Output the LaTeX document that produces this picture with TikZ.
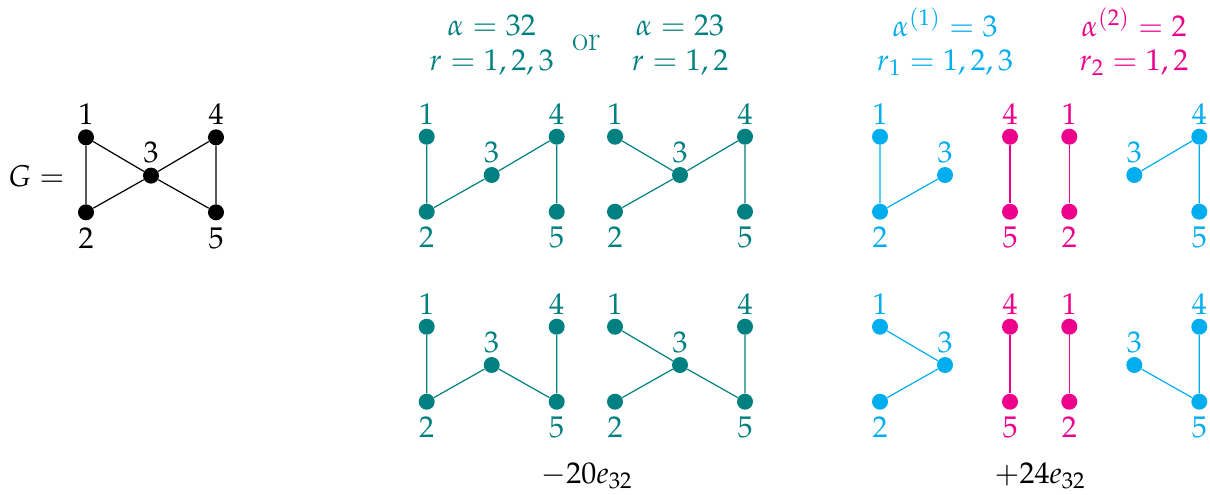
\documentclass[tikz,border=0pt]{standalone}
\usepackage{mathpazo}
\definecolor{myteal}{RGB}{0,128,128}
\definecolor{mycyan}{RGB}{0,174,239}
\definecolor{mymag}{RGB}{236,0,140}
\tikzset{
  v/.style={circle, inner sep=0pt, minimum size=8pt},
  lab/.style={inner sep=0pt, font=\fontsize{15}{18}\selectfont},
  txt/.style={inner sep=0pt, font=\fontsize{15}{18}\selectfont, anchor=base},
  e/.style={line width=0.6pt},
}
\newcommand\fivenodes[8]{%
  \begin{scope}[shift={(#2,#3)}]
    \node[v,fill=#4,label={[lab,text=#4,label distance=1.7pt]above:$1$}] (#1-1) at (0,0) {};
    \node[v,fill=#5,label={[lab,text=#5,label distance=3.3pt]below:$2$}] (#1-2) at (0,75) {};
    \node[v,fill=#6,label={[lab,text=#6,label distance=1.7pt]above:$3$}] (#1-3) at (65,38.3) {};
    \node[v,fill=#7,label={[lab,text=#7,label distance=1.7pt]above:$4$}] (#1-4) at (130,0) {};
    \node[v,fill=#8,label={[lab,text=#8,label distance=3.3pt]below:$5$}] (#1-5) at (130,75) {};
  \end{scope}}
\begin{document}
\begin{tikzpicture}[x=0.5pt,y=-0.5pt]
\useasboundingbox (0,0) rectangle (1210,494);
% G
\node[txt,anchor=base east] (geq) at (65,186) {$G =$};
\fivenodes{g}{86}{137.3}{black}{black}{black}{black}{black}
\draw[e] (g-1) -- (g-2) (g-1) -- (g-3) (g-2) -- (g-3) (g-3) -- (g-4) (g-3) -- (g-5) (g-4) -- (g-5);
% headers teal
\node[txt,text=myteal] (h1a) at (491.7,35) {$\alpha = 32$};
\node[txt,text=myteal] (h1b) at (491.7,70) {$r = 1,2,3$};
\node[txt,text=myteal,font=\fontsize{17.5}{21}\selectfont] (hor) at (587,50) {or};
\node[txt,text=myteal] (h2a) at (680,35) {$\alpha = 23$};
\node[txt,text=myteal] (h2b) at (680,70) {$r = 1,2$};
% headers cyan / magenta
\node[txt,text=mycyan] (h3a) at (945,36.7) {$\alpha^{(1)} = 3$};
\node[txt,text=mycyan] (h3b) at (945,70) {$r_1 = 1,2,3$};
\node[txt,text=mymag] (h4a) at (1134,36.7) {$\alpha^{(2)} = 2$};
\node[txt,text=mymag] (h4b) at (1134,70) {$r_2 = 1,2$};
% top teal graphs
\fivenodes{ta}{426.7}{136.7}{myteal}{myteal}{myteal}{myteal}{myteal}
\draw[e,myteal] (ta-1) -- (ta-2) (ta-2) -- (ta-3) (ta-3) -- (ta-4) (ta-4) -- (ta-5);
\fivenodes{tb}{615}{136.7}{myteal}{myteal}{myteal}{myteal}{myteal}
\draw[e,myteal] (tb-1) -- (tb-3) (tb-2) -- (tb-3) (tb-3) -- (tb-4) (tb-4) -- (tb-5);
% bottom teal graphs
\fivenodes{ba}{426.7}{326.7}{myteal}{myteal}{myteal}{myteal}{myteal}
\draw[e,myteal] (ba-1) -- (ba-2) (ba-2) -- (ba-3) (ba-3) -- (ba-5) (ba-4) -- (ba-5);
\fivenodes{bb}{615}{326.7}{myteal}{myteal}{myteal}{myteal}{myteal}
\draw[e,myteal] (bb-1) -- (bb-3) (bb-2) -- (bb-3) (bb-3) -- (bb-5) (bb-4) -- (bb-5);
% top split graphs
\fivenodes{tc}{880}{136.7}{mycyan}{mycyan}{mycyan}{mymag}{mymag}
\draw[e,mycyan] (tc-1) -- (tc-2) (tc-2) -- (tc-3);
\draw[e,mymag] (tc-4) -- (tc-5);
\fivenodes{td}{1069.3}{136.7}{mymag}{mymag}{mycyan}{mycyan}{mycyan}
\draw[e,mymag] (td-1) -- (td-2);
\draw[e,mycyan] (td-3) -- (td-4) (td-4) -- (td-5);
% bottom split graphs
\fivenodes{bc}{880}{326.7}{mycyan}{mycyan}{mycyan}{mymag}{mymag}
\draw[e,mycyan] (bc-1) -- (bc-3) (bc-2) -- (bc-3);
\draw[e,mymag] (bc-4) -- (bc-5);
\fivenodes{bd}{1069.3}{326.7}{mymag}{mymag}{mycyan}{mycyan}{mycyan}
\draw[e,mymag] (bd-1) -- (bd-2);
\draw[e,mycyan] (bd-3) -- (bd-5) (bd-4) -- (bd-5);
% coefficients
\node[txt] (c1) at (587,483) {$-20e_{32}$};
\node[txt] (c2) at (1040,483) {$+24e_{32}$};
\end{tikzpicture}
\end{document}
